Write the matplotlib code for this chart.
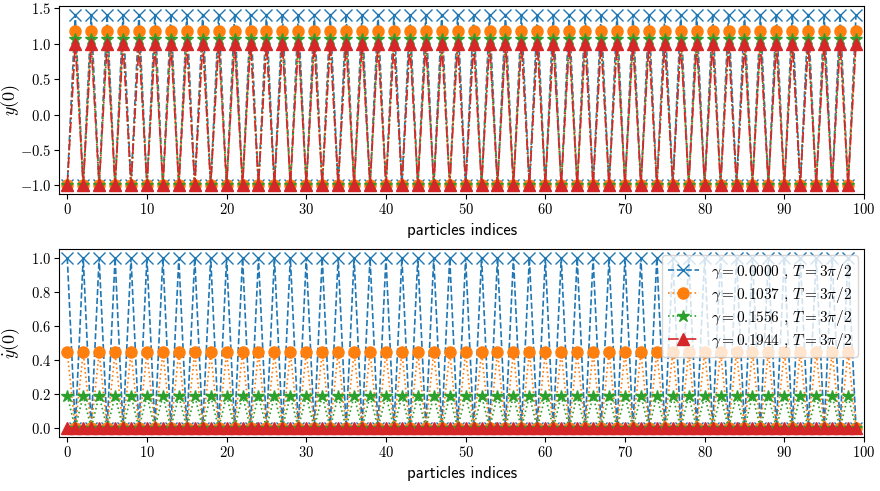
import numpy as np
import matplotlib
matplotlib.use("Agg")
import matplotlib.pyplot as plt

plt.rcParams["font.family"] = "serif"
plt.rcParams["font.serif"] = ["cmr10"]
plt.rcParams["mathtext.fontset"] = "cm"
plt.rcParams["axes.formatter.use_mathtext"] = True
plt.rcParams["axes.unicode_minus"] = True

# particle indices
n_particles = 100
indices = np.arange(n_particles)

# damping values of the four runs
gammas = [0.0000, 0.1037, 0.1556, 0.1944]
period_label = r"3\pi/2"

# initial positions y(0): (even particle, odd particle)
y0_even = [-1.0, -1.0, -1.0, -1.0]
y0_odd = [1.414, 1.18, 1.07, 1.0]

# initial velocities ydot(0): (even particle, odd particle)
v0_even = [1.0, 0.445, 0.19, 0.0]
v0_odd = [0.0, 0.0, 0.0, 0.0]

colors = ["#1f77b4", "#ff7f0e", "#2ca02c", "#d62728"]
styles = ["--", ":", ":", "-."]
markers = ["x", "o", "*", "^"]
msizes = [8, 8, 9, 8]


def alternate(even_val, odd_val):
    return np.tile([even_val, odd_val], n_particles // 2)


fig = plt.figure(figsize=(8.8, 4.91), dpi=100)
ax1 = fig.add_axes([0.0674, 0.6049, 0.9818 - 0.0674, 0.9878 - 0.6049])
ax2 = fig.add_axes([0.0674, 0.1106, 0.9818 - 0.0674, 0.4923 - 0.1106])

for i, g in enumerate(gammas):
    label = rf"$\gamma = {g:.4f}$ , $T = {period_label}$"
    ax1.plot(indices, alternate(y0_even[i], y0_odd[i]), linestyle=styles[i],
             marker=markers[i], color=colors[i], markersize=msizes[i],
             linewidth=1.2, label=label)
    ax2.plot(indices, alternate(v0_even[i], v0_odd[i]), linestyle=styles[i],
             marker=markers[i], color=colors[i], markersize=msizes[i],
             linewidth=1.2, label=label)

for ax in (ax1, ax2):
    ax.set_xlim(-1, 100)
    ax.set_xticks(np.arange(0, 101, 10))
    ax.tick_params(labelsize=10.5, pad=2.5)
    ax.set_xlabel("particles indices", fontfamily="cmss10", fontsize=12)
    ax.yaxis.set_label_coords(-0.046, 0.5)

ax1.set_ylabel(r"$y(0)$", fontsize=13)
ax2.set_ylabel(r"$\dot{y}(0)$", fontsize=13)
ax1.set_yticks([-1.0, -0.5, 0.0, 0.5, 1.0, 1.5])
ax2.set_yticks([0.0, 0.2, 0.4, 0.6, 0.8, 1.0])

ax2.legend(loc="upper right", fontsize=11, labelspacing=0.2,
           borderaxespad=0.4)

fig.savefig("out.png", dpi=100)
